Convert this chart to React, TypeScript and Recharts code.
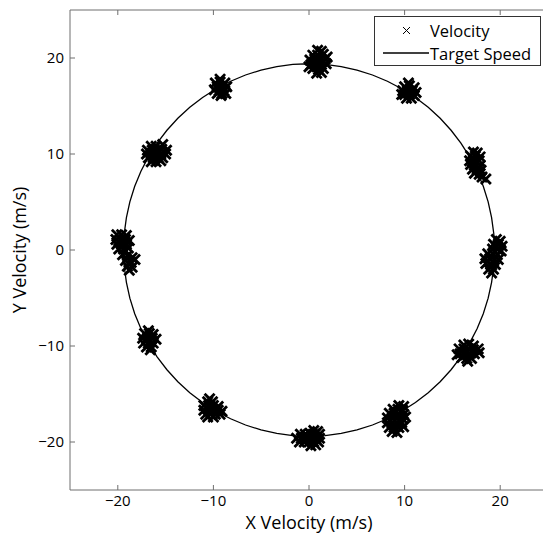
import { ScatterChart, Scatter, XAxis, YAxis, Legend } from "recharts";

// measured velocity samples, one list per cluster (m/s)
const velTop: [number, number][] = [
  [0.9, 20.8], [1.3, 20.7], [0.4, 20.3], [0.9, 20.3], [1.5, 20.4], [0.1, 19.8], [0.6, 19.9],
  [1.1, 19.8], [1.7, 19.9], [0.2, 19.3], [0.7, 19.4], [1.2, 19.3], [1.8, 19.4], [0.4, 18.9],
  [1.0, 18.8], [1.5, 18.9], [0.8, 18.4], [1.3, 18.5], [1.9, 20.1], [0.0, 19.1],
];
const velUpperLeft: [number, number][] = [
  [-9.8, 17.4], [-9.3, 17.5], [-8.8, 17.4], [-9.6, 17.0], [-9.1, 17.0], [-8.6, 17.0], [-9.9, 16.7],
  [-9.4, 16.6], [-8.9, 16.6], [-9.6, 16.3], [-9.1, 16.3], [-8.7, 16.3], [-9.3, 17.8], [-9.2, 16.1],
];
const velUpperRight: [number, number][] = [
  [10.0, 17.0], [10.5, 17.1], [11.0, 16.9], [9.8, 16.6], [10.3, 16.6], [10.8, 16.6], [11.2, 16.4],
  [10.0, 16.2], [10.5, 16.2], [11.0, 16.1], [10.2, 15.8], [10.7, 15.8], [10.4, 17.4], [9.7, 16.2],
];
const velLeftHigh: [number, number][] = [
  [-16.5, 10.8], [-16.0, 10.8], [-15.3, 11.0], [-16.9, 10.4], [-16.4, 10.4], [-15.9, 10.4], [-15.4, 10.5],
  [-14.9, 10.4], [-17.0, 10.0], [-16.5, 10.0], [-16.0, 10.0], [-15.5, 10.0], [-15.0, 10.0], [-16.8, 9.6],
  [-16.3, 9.6], [-15.8, 9.6], [-15.3, 9.6], [-16.5, 9.2], [-16.0, 9.2], [-15.5, 9.3],
];
const velRightHigh: [number, number][] = [
  [17.2, 10.2], [17.6, 10.1], [16.9, 9.8], [17.4, 9.8], [17.9, 9.7], [16.8, 9.3], [17.3, 9.4],
  [17.8, 9.3], [16.9, 8.9], [17.4, 8.9], [17.9, 8.8], [17.1, 8.4], [17.6, 8.4], [18.0, 8.3],
  [17.3, 8.0], [17.8, 7.9], [18.1, 7.6], [18.5, 7.4],
];
const velLeft: [number, number][] = [
  [-20.1, 1.6], [-19.6, 1.6], [-19.1, 1.5], [-20.2, 1.1], [-19.7, 1.1], [-19.2, 1.1], [-18.8, 1.0],
  [-20.1, 0.6], [-19.6, 0.6], [-19.1, 0.6], [-19.9, 0.1], [-19.4, 0.1], [-18.9, 0.2], [-19.5, -0.5],
  [-19.0, -0.6], [-18.5, -0.8], [-19.2, -1.1], [-18.6, -1.3], [-18.2, -1.0], [-19.0, -1.7],
  [-18.5, -1.8], [-18.8, -2.1],
];
const velRight: [number, number][] = [
  [19.6, 1.1], [20.0, 0.9], [19.3, 0.6], [19.8, 0.6], [20.2, 0.4], [19.2, 0.1], [19.7, 0.1],
  [20.1, -0.1], [18.7, -0.4], [19.2, -0.4], [19.7, -0.5], [18.4, -0.9], [18.9, -0.9], [19.4, -1.0],
  [19.8, -1.0], [18.5, -1.4], [19.0, -1.5], [19.5, -1.5], [18.8, -2.0], [19.3, -2.0], [19.1, -2.4],
];
const velLeftLow: [number, number][] = [
  [-17.2, -8.7], [-16.7, -8.7], [-16.3, -8.8], [-17.4, -9.2], [-16.9, -9.2], [-16.4, -9.2], [-16.0, -9.3],
  [-17.3, -9.7], [-16.8, -9.7], [-16.3, -9.7], [-17.0, -10.1], [-16.5, -10.1], [-16.8, -8.4], [-16.6, -10.4],
];
const velRightLow: [number, number][] = [
  [16.2, -9.9], [16.7, -9.8], [17.2, -10.0], [15.7, -10.3], [16.2, -10.3], [16.7, -10.3], [17.2, -10.4],
  [17.7, -10.3], [15.8, -10.8], [16.3, -10.8], [16.8, -10.8], [17.3, -10.8], [17.8, -10.7], [16.0, -11.2],
  [16.5, -11.3], [17.0, -11.3], [16.6, -11.6], [15.5, -10.9],
];
const velLowerLeft: [number, number][] = [
  [-10.6, -15.8], [-10.1, -15.8], [-11.0, -16.2], [-10.5, -16.2], [-10.0, -16.2], [-9.5, -16.3],
  [-11.0, -16.7], [-10.5, -16.6], [-10.0, -16.6], [-9.5, -16.7], [-9.1, -16.8], [-10.8, -17.1],
  [-10.3, -17.1], [-9.8, -17.1], [-9.3, -17.1], [-10.4, -15.5], [-10.6, -17.4], [-10.0, -17.4],
];
const velBottom: [number, number][] = [
  [0.5, -18.8], [0.9, -18.9], [-0.9, -19.2], [-0.4, -19.2], [0.1, -19.1], [0.6, -19.2], [1.1, -19.2],
  [-1.3, -19.6], [-0.8, -19.6], [-0.3, -19.6], [0.2, -19.6], [0.7, -19.6], [1.1, -19.6], [-1.0, -20.0],
  [-0.5, -20.0], [0.0, -20.0], [0.5, -20.0], [1.0, -20.0], [0.2, -20.4], [0.7, -20.3],
];
const velLowerRight: [number, number][] = [
  [9.4, -16.2], [9.9, -16.3], [8.8, -16.6], [9.3, -16.6], [9.8, -16.7], [8.4, -17.0], [8.9, -17.0],
  [9.4, -17.1], [9.9, -17.1], [8.2, -17.5], [8.7, -17.5], [9.2, -17.5], [9.7, -17.5], [10.1, -17.4],
  [8.2, -18.0], [8.7, -18.0], [9.2, -18.0], [9.7, -18.0], [8.4, -18.5], [8.9, -18.5], [9.4, -18.5],
  [9.9, -18.4], [8.7, -18.9], [9.2, -19.0],
];

// target speed circle (radius ~19.4 m/s), every 5 degrees
const targetPts: [number, number][] = [
  [19.4, 0], [19.33, 1.69], [19.1, 3.37], [18.74, 5.02], [18.23, 6.64], [17.58, 8.2], [16.8, 9.7],
  [15.89, 11.13], [14.86, 12.47], [13.72, 13.72], [12.47, 14.86], [11.13, 15.89], [9.7, 16.8],
  [8.2, 17.58], [6.64, 18.23], [5.02, 18.74], [3.37, 19.1], [1.69, 19.33],
  [0, 19.4], [-1.69, 19.33], [-3.37, 19.1], [-5.02, 18.74], [-6.64, 18.23], [-8.2, 17.58], [-9.7, 16.8],
  [-11.13, 15.89], [-12.47, 14.86], [-13.72, 13.72], [-14.86, 12.47], [-15.89, 11.13], [-16.8, 9.7],
  [-17.58, 8.2], [-18.23, 6.64], [-18.74, 5.02], [-19.1, 3.37], [-19.33, 1.69],
  [-19.4, 0], [-19.33, -1.69], [-19.1, -3.37], [-18.74, -5.02], [-18.23, -6.64], [-17.58, -8.2],
  [-16.8, -9.7], [-15.89, -11.13], [-14.86, -12.47], [-13.72, -13.72], [-12.47, -14.86], [-11.13, -15.89],
  [-9.7, -16.8], [-8.2, -17.58], [-6.64, -18.23], [-5.02, -18.74], [-3.37, -19.1], [-1.69, -19.33],
  [0, -19.4], [1.69, -19.33], [3.37, -19.1], [5.02, -18.74], [6.64, -18.23], [8.2, -17.58], [9.7, -16.8],
  [11.13, -15.89], [12.47, -14.86], [13.72, -13.72], [14.86, -12.47], [15.89, -11.13], [16.8, -9.7],
  [17.58, -8.2], [18.23, -6.64], [18.74, -5.02], [19.1, -3.37], [19.33, -1.69], [19.4, 0],
];

const ticks = [-20, -10, 0, 10, 20];

const velocity = [
  ...velTop, ...velUpperLeft, ...velUpperRight, ...velLeftHigh, ...velRightHigh, ...velLeft,
  ...velRight, ...velLeftLow, ...velRightLow, ...velLowerLeft, ...velBottom, ...velLowerRight,
].map(([x, y]) => ({ x, y }));
const target = targetPts.map(([x, y]) => ({ x, y }));

const FONT = "'Open Sans', sans-serif";
const AXIS = "#6e6e6e";

const fmt = (v: number) => (v < 0 ? `\u2212${-v}` : `${v}`);

const Cross = (p: any) => {
  const s = 5;
  return (
    <path
      d={`M${p.cx - s},${p.cy - s}L${p.cx + s},${p.cy + s}M${p.cx - s},${p.cy + s}L${p.cx + s},${p.cy - s}`}
      stroke="#000"
      strokeWidth={2.8}
      fill="none"
    />
  );
};

const LegendBox = () => (
  <div
    style={{
      width: 167,
      height: 50,
      border: "1px solid #333",
      background: "#fff",
      fontFamily: FONT,
      fontSize: 16.5,
      color: "#000",
      boxSizing: "border-box",
      position: "relative",
    }}
  >
    <svg width={56} height={48} style={{ position: "absolute", left: 0, top: 0 }}>
      <path d="M28,10L35,17M28,17L35,10" stroke="#000" strokeWidth={1} />
      <line x1={8} x2={54} y1={36} y2={36} stroke="#000" strokeWidth={1.3} />
    </svg>
    <div style={{ position: "absolute", left: 55, top: 3, lineHeight: "22.5px" }}>Velocity</div>
    <div style={{ position: "absolute", left: 55, top: 25.5, lineHeight: "22.5px" }}>Target Speed</div>
  </div>
);

const noTick = () => <g />;

export default function App() {
  return (
    <div style={{ position: "absolute", left: 0, top: 0, width: 543, height: 535, overflow: "hidden", background: "#fff" }}>
      <ScatterChart width={620} height={535} margin={{ top: 9, right: 71, bottom: 0, left: 20 }}>
        <XAxis
          xAxisId="b"
          type="number"
          dataKey="x"
          domain={[-25, 25]}
          ticks={ticks}
          allowDataOverflow
          height={45}
          stroke={AXIS}
          tickSize={-5}
          tickMargin={10}
          tickFormatter={fmt}
          tick={{ fill: "#000", fontSize: 15, fontFamily: FONT }}
          label={{ value: "X Velocity (m/s)", position: "insideBottom", offset: 6, fill: "#000", fontSize: 18, fontFamily: FONT }}
        />
        <XAxis
          xAxisId="t"
          orientation="top"
          type="number"
          dataKey="x"
          domain={[-25, 25]}
          ticks={ticks}
          allowDataOverflow
          height={1}
          stroke={AXIS}
          tickSize={-5}
          tick={noTick}
        />
        <YAxis
          yAxisId="l"
          type="number"
          dataKey="y"
          domain={[-25, 25]}
          ticks={ticks}
          allowDataOverflow
          width={50}
          stroke={AXIS}
          tickSize={-5}
          tickMargin={11}
          tickFormatter={fmt}
          tick={{ fill: "#000", fontSize: 15, fontFamily: FONT }}
          label={{ value: "Y Velocity (m/s)", angle: -90, position: "insideLeft", offset: 0, fill: "#000", fontSize: 18, fontFamily: FONT, style: { textAnchor: "middle" } }}
        />
        <YAxis
          yAxisId="r"
          orientation="right"
          type="number"
          dataKey="y"
          domain={[-25, 25]}
          ticks={ticks}
          allowDataOverflow
          width={1}
          stroke={AXIS}
          tickSize={-5}
          tick={noTick}
        />
        <Scatter
          name="Velocity"
          data={velocity}
          xAxisId="b"
          yAxisId="l"
          shape={Cross}
          isAnimationActive={false}
        />
        <Scatter
          name="Target Speed"
          data={target}
          xAxisId="b"
          yAxisId="l"
          line={{ stroke: "#000", strokeWidth: 1.3 }}
          lineType="joint"
          shape={noTick}
          isAnimationActive={false}
        />
        <Scatter data={target} xAxisId="t" yAxisId="r" shape={noTick} isAnimationActive={false} legendType="none" />
        <Legend
          layout="vertical"
          align="center"
          verticalAlign="middle"
          content={LegendBox}
          wrapperStyle={{ position: "absolute", left: 374, top: 16, width: 167, height: 50 }}
        />
      </ScatterChart>
    </div>
  );
}
